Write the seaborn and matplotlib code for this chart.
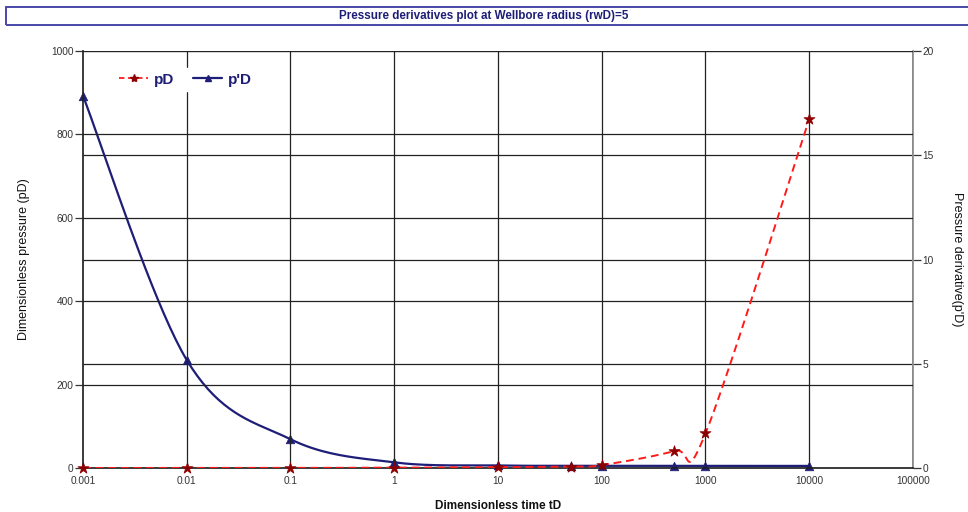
import numpy as np
import pandas as pd
import matplotlib
matplotlib.use("Agg")
import matplotlib.pyplot as plt
import matplotlib.font_manager as fm
import seaborn as sns
from matplotlib.patches import Rectangle
from matplotlib.lines import Line2D

# ---- data ----
t_D = [0.001, 0.01, 0.1, 1, 10, 50, 100, 500, 1000, 10000]
p_D = [0.05, 0.1, 0.3, 0.8, 2.0, 3.5, 7.0, 41.0, 83.0, 837.0]
dp_D = [17.85, 5.18, 1.38, 0.27, 0.12, 0.11, 0.10, 0.10, 0.10, 0.10]
x_ticks = [0.001, 0.01, 0.1, 1, 10, 100, 1000, 10000, 100000]
x_ticklabels = ["0.001", "0.01", "0.1", "1", "10", "100", "1000", "10000", "100000"]
left_ticks = [0, 200, 400, 600, 800, 1000]
right_ticks = [0, 5, 10, 15, 20]

title = "Pressure derivatives plot at Wellbore radius (rwD)=5"

sns.set_theme(style="white")
names = {f.name for f in fm.fontManager.ttflist}
narrow = None
for cand in ["Liberation Sans Narrow", "Arial Narrow"]:
    if cand in names:
        narrow = cand
        break
base = "Liberation Sans" if "Liberation Sans" in names else "DejaVu Sans"
plt.rcParams["font.family"] = [base, "DejaVu Sans"]

if narrow:
    tfam, tsize, xlfam, xlsize, tickfam, ticksize = narrow, 10, narrow, 10, narrow, 8.5
else:
    tfam, tsize, xlfam, xlsize, tickfam, ticksize = base, 8.4, base, 8.5, base, 7.3


def smooth(xs, ys, n=40):
    """Catmull-Rom spline through the data in (log10 x, y) space, for display."""
    lx = np.log10(np.asarray(xs, float))
    y = np.asarray(ys, float)
    P = np.column_stack([lx, y])
    P = np.vstack([P[0], P, P[-1]])
    out = []
    for i in range(1, len(P) - 2):
        p0, p1, p2, p3 = P[i - 1], P[i], P[i + 1], P[i + 2]
        m1 = (p2 - p0) / 2
        m2 = (p3 - p1) / 2
        t = np.linspace(0, 1, n)[:, None]
        h00 = 2 * t**3 - 3 * t**2 + 1
        h10 = t**3 - 2 * t**2 + t
        h01 = -2 * t**3 + 3 * t**2
        h11 = t**3 - t**2
        seg = h00 * p1 + h10 * m1 + h01 * p2 + h11 * m2
        out.append(seg if i == 1 else seg[1:])
    S = np.vstack(out)
    return pd.DataFrame({"t": 10 ** S[:, 0], "v": S[:, 1]})


fig = plt.figure(figsize=(9.68, 5.12), dpi=100)
ax = fig.add_axes([83 / 968, 1 - 468 / 512, 830 / 968, 417 / 512])
ax2 = ax.twinx()

ax.set_xscale("log")
ax.set_xlim(0.001, 100000)
ax.set_ylim(0, 1000)
ax2.set_ylim(0, 20)

# grid
grid_c = "#222222"
for xv in x_ticks[1:-1]:
    ax.axvline(xv, color=grid_c, lw=0.9, zorder=0)
ax.axvline(100000, color="#888888", lw=1.2, zorder=0)
for yv in left_ticks[1:-1]:
    ax.axhline(yv, color=grid_c, lw=0.9, zorder=0)
for yv in right_ticks[1:-1]:
    ax2.axhline(yv, color=grid_c, lw=0.9, zorder=0)
ax.axhline(1000, color=grid_c, lw=1.0, zorder=0)

red = "#FF1A1A"
maroon = "#8B0000"
navy = "#1E1E78"

# p'D on right axis
sp = smooth(t_D, dp_D)
sns.lineplot(data=sp, x="t", y="v", ax=ax2, color=navy, lw=1.6, sort=False,
             estimator=None, zorder=3)
sns.scatterplot(x=t_D, y=dp_D, ax=ax2, marker="^", color=navy, s=38,
                edgecolor=navy, linewidth=0.5, zorder=4, clip_on=False)

# pD on left axis
sd = smooth(t_D, p_D)
sns.lineplot(data=sd, x="t", y="v", ax=ax, color=red, lw=1.4,
             sort=False, estimator=None, zorder=5, linestyle=(0, (4, 2.5)))
sns.scatterplot(x=t_D, y=p_D, ax=ax, marker="*", color=maroon, s=70,
                edgecolor=maroon, linewidth=0.5, zorder=6, clip_on=False)

ax.set_zorder(ax2.get_zorder() + 1)
ax.patch.set_visible(False)

# axes styling
ax.set_xticks(x_ticks)
ax.set_xticklabels(x_ticklabels)
ax.minorticks_off()
ax.set_yticks(left_ticks)
ax.set_yticklabels([str(v) for v in left_ticks])
ax2.set_yticks(right_ticks)
ax2.set_yticklabels([str(v) for v in right_ticks])
for a in (ax, ax2):
    a.tick_params(axis="both", which="major", length=6, width=0.9, color="#333333",
                  labelsize=ticksize, labelcolor="#333333", pad=1)
    a.grid(False)
    for lab in a.get_xticklabels() + a.get_yticklabels():
        lab.set_family([tickfam, "DejaVu Sans"])
ax.tick_params(axis="x", direction="inout", length=8, pad=2)
ax.tick_params(axis="y", left=True, direction="out")
ax2.tick_params(axis="y", right=True, direction="out")
for s in ["top"]:
    ax.spines[s].set_visible(False)
    ax2.spines[s].set_visible(False)
ax.spines["left"].set_color("#222222")
ax.spines["bottom"].set_color("#222222")
ax.spines["right"].set_visible(False)
ax2.spines["left"].set_visible(False)
ax2.spines["bottom"].set_visible(False)
ax2.spines["right"].set_color("#888888")
ax2.spines["right"].set_linewidth(1.2)

ax.set_xlabel("Dimensionless time tD", fontsize=xlsize, fontweight="bold", color="#111111",
              labelpad=10, family=[xlfam, "DejaVu Sans"])
ax.set_ylabel("Dimensionless pressure (pD)", fontsize=9, color="#111111", labelpad=15)
ax2.set_ylabel("Pressure derivative(p'D)", fontsize=9, color="#111111", rotation=-90,
               labelpad=21)

# legend
handles = [
    Line2D([], [], color=red, lw=1.3, linestyle=(0, (3, 2)), marker="*",
           markerfacecolor=maroon, markeredgecolor=maroon, markersize=6),
    Line2D([], [], color=navy, lw=1.6, marker="^", markerfacecolor=navy,
           markeredgecolor=navy, markersize=4.5),
]
leg = ax.legend(handles, ["pD", "p'D"], loc="upper left", bbox_to_anchor=(0.029, 0.977),
                ncol=2, frameon=True, framealpha=1, edgecolor="white", facecolor="white",
                handlelength=1.9, columnspacing=1.2, handletextpad=0.4, borderpad=0.3,
                prop={"family": [base, "DejaVu Sans"], "weight": "bold", "size": 11})
for txt in leg.get_texts():
    txt.set_color(navy)
leg.set_zorder(10)

# title box
fig.patches.append(Rectangle((6 / 968, 1 - 25 / 512), 1.0, 18 / 512, transform=fig.transFigure,
                             fill=False, edgecolor="#4848A8", lw=1.4))
fig.text(484 / 968, 1 - 16 / 512, title, ha="center", va="center", fontsize=tsize,
         fontweight="bold", color="#1E1E78", family=[tfam, "DejaVu Sans"])

fig.savefig("out.png", dpi=100)
